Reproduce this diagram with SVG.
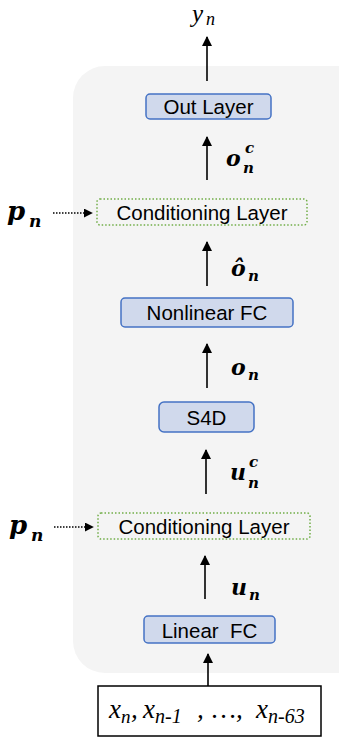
<svg xmlns="http://www.w3.org/2000/svg" width="339" height="738" viewBox="0 0 339 738">
<defs>
<marker id="ah" viewBox="0 0 10 10" refX="9" refY="5" markerWidth="10" markerHeight="10" markerUnits="userSpaceOnUse" orient="auto">
<path d="M0,0 L10,5 L0,10 z" fill="#000"/>
</marker>
<marker id="ahs" viewBox="0 0 10 10" refX="9" refY="5" markerWidth="9" markerHeight="9" markerUnits="userSpaceOnUse" orient="auto">
<path d="M0,0 L10,5 L0,10 z" fill="#000"/>
</marker>
</defs>
<style>
.blk{fill:#D0D9EC;stroke:#4472C4;stroke-width:1.5}
.cond{fill:none;stroke:#70AD47;stroke-width:1.5;stroke-dasharray:1.5 2}
.lbl{font-family:"Liberation Sans",Arial,sans-serif;font-size:20.5px;fill:#000;text-anchor:middle}
.m{font-family:"DejaVu Serif","Liberation Serif",serif;font-weight:bold;font-style:italic;fill:#000}
.it{font-family:"Liberation Serif","Times New Roman",serif;font-style:italic;fill:#000}
.ar{stroke:#000;stroke-width:1.6;fill:none;marker-end:url(#ah)}
.dar{stroke:#000;stroke-width:1.5;fill:none;stroke-dasharray:1.5 1.5;marker-end:url(#ahs)}
</style>
<rect id="bg" x="73" y="66" width="300" height="607" rx="32" ry="32" fill="#F4F4F4"/>
<g id="connectors">
<line class="ar" x1="207" y1="81" x2="207" y2="37"/>
<line class="ar" x1="207" y1="180" x2="207" y2="137"/>
<line class="ar" x1="207" y1="286" x2="207" y2="242"/>
<line class="ar" x1="207" y1="388" x2="207" y2="344"/>
<line class="ar" x1="206" y1="494" x2="206" y2="450"/>
<line class="ar" x1="205" y1="599" x2="205" y2="556"/>
<line class="ar" x1="208" y1="686" x2="208" y2="654"/>
<line class="dar" x1="53" y1="213" x2="92" y2="213"/>
<line class="dar" x1="54" y1="527" x2="93" y2="527"/>
</g>
<g id="out-layer"><rect class="blk" x="146" y="94" width="125" height="25" rx="4"/><text class="lbl" x="208.5" y="114">Out Layer</text></g>
<g id="cond-layer-1"><rect class="cond" x="97" y="199" width="210" height="26" rx="3"/><text class="lbl" x="202" y="220">Conditioning Layer</text></g>
<g id="nonlinear-fc"><rect class="blk" x="121" y="298" width="172" height="29" rx="4"/><text class="lbl" x="207" y="320">Nonlinear FC</text></g>
<g id="s4d"><rect class="blk" x="159" y="402" width="95" height="30" rx="5"/><text class="lbl" x="206.5" y="425">S4D</text></g>
<g id="cond-layer-2"><rect class="cond" x="98" y="513" width="212" height="26" rx="3"/><text class="lbl" x="204" y="534">Conditioning Layer</text></g>
<g id="linear-fc"><rect class="blk" x="144" y="616" width="131" height="27" rx="4"/><text class="lbl" x="209.5" y="638" style="white-space:pre">Linear  FC</text></g>
<g id="input"><rect x="98" y="686" width="223" height="50" fill="#fff" stroke="#000" stroke-width="1.5"/>
<text class="it" y="718" font-size="27"><tspan x="109">x</tspan><tspan x="121" y="723" font-size="19">n</tspan><tspan x="131" y="718">,</tspan><tspan x="143">x</tspan><tspan x="155" y="723" font-size="20">n-1</tspan><tspan x="197" y="718">,</tspan><tspan x="212">…,</tspan><tspan x="256">x</tspan><tspan x="268" y="723" font-size="20">n-63</tspan></text></g>
<g id="labels">
<text class="it" x="192" y="22" font-size="25">y<tspan x="206" y="25" font-size="18">n</tspan></text>
<text class="m" x="226" y="166" font-size="22">o</text><text class="m" x="245" y="153" font-size="15">c</text><text class="m" x="243" y="173" font-size="15">n</text>
<text class="m" x="231" y="276" font-size="22">ô</text><text class="m" x="248" y="281" font-size="15">n</text>
<text class="m" x="231" y="375" font-size="22">o</text><text class="m" x="248" y="380" font-size="15">n</text>
<text class="m" x="230" y="480" font-size="22">u</text><text class="m" x="249" y="467" font-size="15">c</text><text class="m" x="248" y="488" font-size="15">n</text>
<text class="m" x="231" y="595" font-size="22">u</text><text class="m" x="249" y="600" font-size="15">n</text>
<text class="m" x="7" y="220" font-size="26">p</text><text class="m" x="29" y="227" font-size="17">n</text>
<text class="m" x="9" y="534" font-size="26">p</text><text class="m" x="31" y="541" font-size="17">n</text>
</g>
</svg>
